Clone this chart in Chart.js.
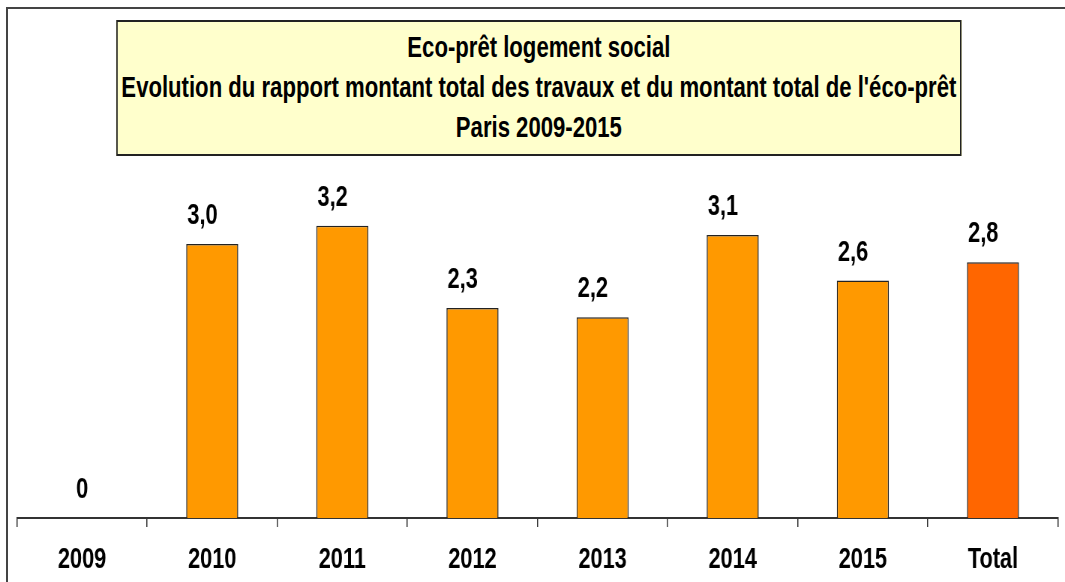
<!DOCTYPE html>
<html lang="fr">
<head>
<meta charset="utf-8">
<title>Eco-prêt logement social - Paris 2009-2015</title>
<script src="https://cdn.jsdelivr.net/npm/chart.js@4.4.1/dist/chart.umd.min.js"></script>
<style>
    html, body { margin: 0; padding: 0; background: #fff; overflow: hidden; }
    body { width: 1065px; height: 582px; position: relative; }
    .cadre {
        position: absolute; left: 6px; top: 7px; width: 1200px; height: 700px;
        border-left: 2px solid #444; border-top: 2px solid #444;
    }
    /* the whole figure is drawn wide, then squeezed horizontally */
    .planche {
        position: absolute; left: 0; top: 0; width: 1420px; height: 582px;
        transform: scaleX(0.75); transform-origin: 0 0;
    }
    .titre {
        position: absolute; left: 155px; top: 20px; width: 1127px; height: 136px;
        box-sizing: border-box; border: 2px solid #222; background: #ffffcc;
        padding-top: 5px; text-align: center; color: #000;
        font: bold 29.5px "Liberation Sans", Arial, sans-serif; line-height: 40px;
    }
    #graphe { position: absolute; left: 0; top: 0; width: 1420px; height: 582px; }
</style>
</head>
<body>
<div class="cadre"></div>
<div class="planche">
    <div id="graphe"><canvas id="rapportChart"></canvas></div>
    <div class="titre">
        <div>Eco-prêt logement social</div>
        <div>Evolution du rapport montant total des travaux et du montant total de l'éco-prêt</div>
        <div>Paris 2009-2015</div>
    </div>
</div>
<script>
const annees = ['2009', '2010', '2011', '2012', '2013', '2014', '2015', 'Total'];
const rapports = [0, 3.0, 3.2, 2.3, 2.2, 3.1, 2.6, 2.8];

const orange = '#ff9900';
const orangeTotal = '#ff6600';
const police = '"Liberation Sans", Arial, sans-serif';

function formatRapport(v) {
    return v === 0 ? '0' : v.toFixed(1).replace('.', ',');
}

// valeurs au-dessus des barres
const etiquettes = {
    id: 'etiquettes',
    afterDatasetsDraw(chart) {
        const ctx = chart.ctx;
        const meta = chart.getDatasetMeta(0);
        ctx.save();
        ctx.font = 'bold 29px ' + police;
        ctx.fillStyle = '#000';
        ctx.textAlign = 'center';
        ctx.textBaseline = 'alphabetic';
        meta.data.forEach((bar, i) => {
            const v = rapports[i];
            const dx = v === 0 ? 0 : -13;
            ctx.fillText(formatRapport(v), bar.x + dx, bar.y - 20);
        });
        ctx.restore();
    }
};

const ctx = document.getElementById('rapportChart').getContext('2d');
new Chart(ctx, {
    type: 'bar',
    data: {
        labels: annees,
        datasets: [{
            data: rapports,
            backgroundColor: annees.map(a => a === 'Total' ? orangeTotal : orange),
            borderColor: '#222',
            borderWidth: 1.5,
            categoryPercentage: 1,
            barPercentage: 0.4
        }]
    },
    options: {
        responsive: true,
        maintainAspectRatio: false,
        animation: false,
        layout: { padding: { top: 61.5, left: 22.7, right: 9.3, bottom: 0 } },
        plugins: {
            legend: { display: false },
            title: { display: false },
            tooltip: { enabled: false }
        },
        scales: {
            x: {
                afterFit(scale) { scale.height = 64; },
                grid: {
                    drawOnChartArea: false,
                    drawTicks: true,
                    tickLength: 9,
                    color: '#333',
                    lineWidth: 1.5
                },
                border: { display: true, color: '#333', width: 2 },
                ticks: {
                    color: '#000',
                    padding: 16,
                    font: { family: police, size: 29, weight: 'bold' }
                }
            },
            y: {
                display: false,
                min: 0,
                max: 5
            }
        }
    },
    plugins: [etiquettes]
});
</script>
</body>
</html>
